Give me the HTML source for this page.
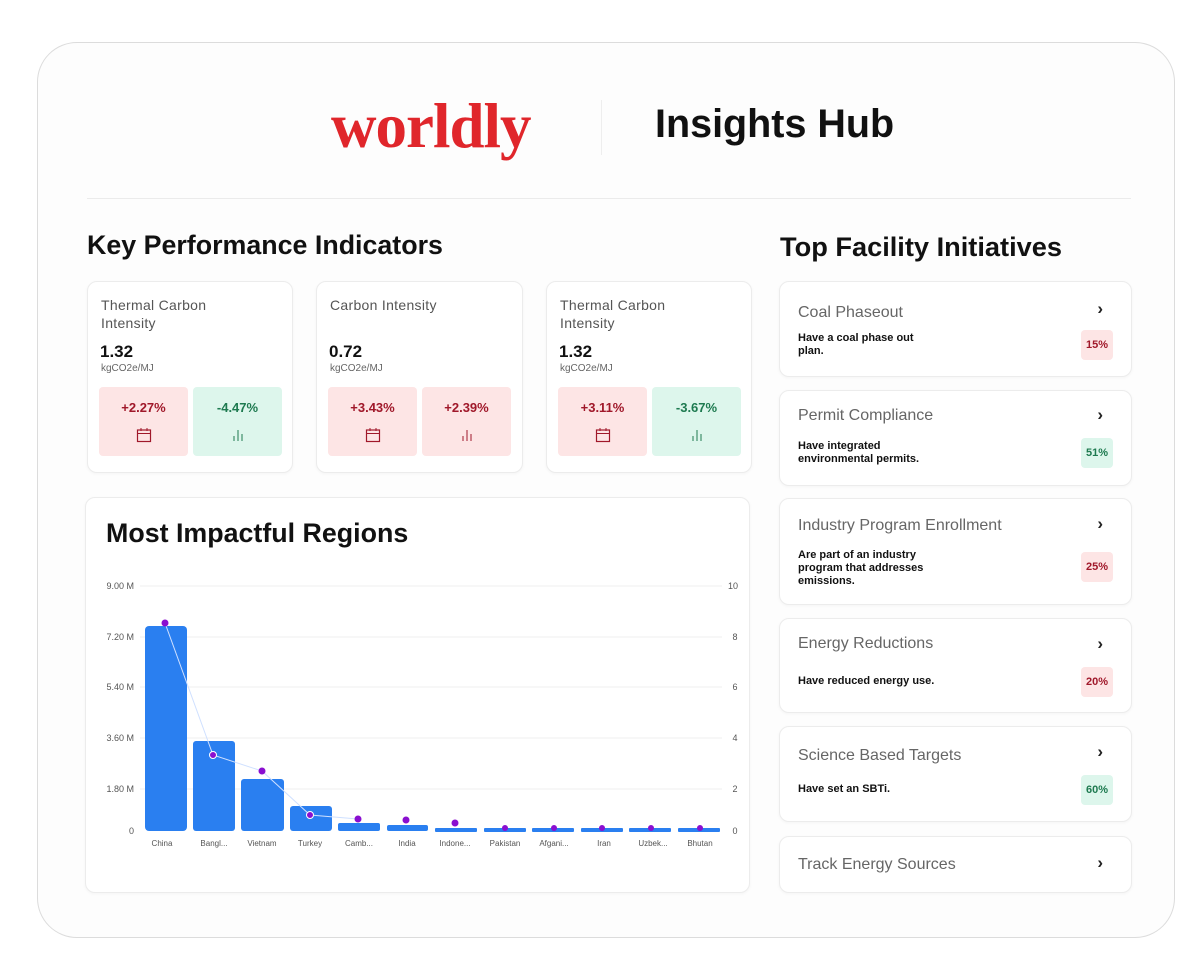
<!DOCTYPE html>
<html><head><meta charset="utf-8"><style>
*{margin:0;padding:0;box-sizing:border-box}
body{width:1200px;height:967px;background:#fff;font-family:"Liberation Sans",sans-serif;position:relative;overflow:hidden}
.a{position:absolute}
.outer{left:37px;top:42px;width:1138px;height:896px;border:1px solid #dcdcdc;border-radius:40px;background:#fdfdfd}
.card{position:absolute;background:#fff;border:1px solid #ececec;border-radius:10px;box-shadow:0 1px 3px rgba(0,0,0,.04)}
.h2{font-weight:bold;font-size:26.5px;color:#111}
.kt{position:absolute;left:13px;top:14px;font-size:14px;color:#555;line-height:18px;letter-spacing:.3px}
.kv{position:absolute;left:12px;top:60px;font-size:17px;font-weight:bold;color:#111}
.ku{position:absolute;left:13px;top:81px;font-size:10px;color:#666}
.chip{position:absolute;top:105px;width:89px;height:69px;border-radius:4px;text-align:center;font-weight:bold;font-size:13px;padding-top:13px}
.r{background:#fde5e5;color:#a0182a}.g{background:#ddf6ec;color:#1e7a50}
.ic{display:block;margin:12px auto 0}
.ft{position:absolute;left:18px;font-size:16px;color:#666}
.fd{position:absolute;left:18px;font-size:11px;font-weight:bold;color:#111;line-height:13px}
.arr{position:absolute;right:28px;font-size:17px;color:#222;font-weight:bold}
.bd{position:absolute;right:18px;width:32px;height:30px;border-radius:4px;font-size:11px;font-weight:bold;text-align:center;line-height:30px}
</style></head><body>
<div class="a outer"></div>
<div class="a" style="left:331px;top:90px;font-family:'Liberation Serif',serif;font-weight:bold;font-size:63px;color:#e0262b;letter-spacing:-1px">worldly</div>
<div class="a" style="left:601px;top:100px;width:1px;height:55px;background:#eee"></div>
<div class="a" style="left:655px;top:102px;font-weight:bold;font-size:39.5px;color:#111">Insights Hub</div>
<div class="a" style="left:87px;top:198px;width:1044px;height:1px;background:#ebebeb"></div>

<div class="a h2" style="left:87px;top:230px;font-size:26.8px">Key Performance Indicators</div>
<div class="a h2" style="left:780px;top:231px;font-size:27.2px">Top Facility Initiatives</div>

<!-- KPI cards -->
<div class="card" style="left:87px;top:281px;width:206px;height:192px">
<div class="kt">Thermal Carbon<br>Intensity</div><div class="kv">1.32</div><div class="ku">kgCO2e/MJ</div>
<div class="chip r" style="left:11px">+2.27%<svg class="ic" width="16" height="16" viewBox="0 0 16 16"><rect x="1.5" y="3" width="13" height="11.5" fill="none" stroke="#a0182a" stroke-width="1.2"/><line x1="1.5" y1="6.5" x2="14.5" y2="6.5" stroke="#a0182a"/><line x1="5" y1="1" x2="5" y2="4" stroke="#a0182a"/><line x1="11" y1="1" x2="11" y2="4" stroke="#a0182a"/></svg></div>
<div class="chip g" style="left:105px">-4.47%<svg class="ic" width="16" height="16" viewBox="0 0 16 16"><line x1="4" y1="9" x2="4" y2="14" stroke="#1e7a50"/><line x1="8" y1="3" x2="8" y2="14" stroke="#1e7a50"/><line x1="12" y1="7" x2="12" y2="14" stroke="#1e7a50"/></svg></div>
</div>
<div class="card" style="left:316px;top:281px;width:207px;height:192px">
<div class="kt">Carbon Intensity</div><div class="kv">0.72</div><div class="ku">kgCO2e/MJ</div>
<div class="chip r" style="left:11px">+3.43%<svg class="ic" width="16" height="16" viewBox="0 0 16 16"><rect x="1.5" y="3" width="13" height="11.5" fill="none" stroke="#a0182a" stroke-width="1.2"/><line x1="1.5" y1="6.5" x2="14.5" y2="6.5" stroke="#a0182a"/><line x1="5" y1="1" x2="5" y2="4" stroke="#a0182a"/><line x1="11" y1="1" x2="11" y2="4" stroke="#a0182a"/></svg></div>
<div class="chip r" style="left:105px">+2.39%<svg class="ic" width="16" height="16" viewBox="0 0 16 16"><line x1="4" y1="9" x2="4" y2="14" stroke="#a0182a"/><line x1="8" y1="3" x2="8" y2="14" stroke="#a0182a"/><line x1="12" y1="7" x2="12" y2="14" stroke="#a0182a"/></svg></div>
</div>
<div class="card" style="left:546px;top:281px;width:206px;height:192px">
<div class="kt">Thermal Carbon<br>Intensity</div><div class="kv">1.32</div><div class="ku">kgCO2e/MJ</div>
<div class="chip r" style="left:11px">+3.11%<svg class="ic" width="16" height="16" viewBox="0 0 16 16"><rect x="1.5" y="3" width="13" height="11.5" fill="none" stroke="#a0182a" stroke-width="1.2"/><line x1="1.5" y1="6.5" x2="14.5" y2="6.5" stroke="#a0182a"/><line x1="5" y1="1" x2="5" y2="4" stroke="#a0182a"/><line x1="11" y1="1" x2="11" y2="4" stroke="#a0182a"/></svg></div>
<div class="chip g" style="left:105px">-3.67%<svg class="ic" width="16" height="16" viewBox="0 0 16 16"><line x1="4" y1="9" x2="4" y2="14" stroke="#1e7a50"/><line x1="8" y1="3" x2="8" y2="14" stroke="#1e7a50"/><line x1="12" y1="7" x2="12" y2="14" stroke="#1e7a50"/></svg></div>
</div>

<!-- Regions chart -->
<div class="card" style="left:85px;top:497px;width:665px;height:396px"></div>
<div class="a h2" style="left:106px;top:518px;font-size:26.8px">Most Impactful Regions</div>
<svg class="a" style="left:0;top:0" width="1200" height="967" font-family="Liberation Sans, sans-serif" font-size="9" fill="#555">
<g stroke="#efefef" stroke-width="1">
<line x1="140" y1="586" x2="722" y2="586"/><line x1="140" y1="637" x2="722" y2="637"/><line x1="140" y1="687" x2="722" y2="687"/><line x1="140" y1="738" x2="722" y2="738"/><line x1="140" y1="789" x2="722" y2="789"/>
</g>
<g text-anchor="end">
<text x="134" y="589">9.00 M</text><text x="134" y="640">7.20 M</text><text x="134" y="690">5.40 M</text><text x="134" y="741">3.60 M</text><text x="134" y="792">1.80 M</text><text x="134" y="834">0</text>
</g>
<g text-anchor="middle">
<text x="733" y="589">10</text><text x="735" y="640">8</text><text x="735" y="690">6</text><text x="735" y="741">4</text><text x="735" y="792">2</text><text x="735" y="834">0</text>
</g>
<g fill="#2a7ff0">
<rect x="145" y="626" width="42" height="205" rx="4"/>
<rect x="193" y="741" width="42" height="90" rx="3"/>
<rect x="241" y="779" width="43" height="52" rx="3"/>
<rect x="290" y="806" width="42" height="25" rx="3"/>
<rect x="338" y="823" width="42" height="8" rx="2"/>
<rect x="387" y="825" width="41" height="6" rx="2"/>
<rect x="435" y="828" width="42" height="4" rx="1"/>
<rect x="484" y="828" width="42" height="4" rx="1"/>
<rect x="532" y="828" width="42" height="4" rx="1"/>
<rect x="581" y="828" width="42" height="4" rx="1"/>
<rect x="629" y="828" width="42" height="4" rx="1"/>
<rect x="678" y="828" width="42" height="4" rx="1"/>
</g>
<polyline points="165,623 213,755 262,771 310,815 358,819" fill="none" stroke="#cfe0ff" stroke-width="1"/>
<g fill="#8a0fd0">
<circle cx="165" cy="623" r="3.5"/><circle cx="213" cy="755" r="3.5" stroke="#fff"/><circle cx="262" cy="771" r="3.5"/><circle cx="310" cy="815" r="3.5" stroke="#fff"/><circle cx="358" cy="819" r="3.5"/><circle cx="406" cy="820" r="3.5"/><circle cx="455" cy="823" r="3.5"/><circle cx="505" cy="828" r="3"/><circle cx="554" cy="828" r="3"/><circle cx="602" cy="828" r="3"/><circle cx="651" cy="828" r="3"/><circle cx="700" cy="828" r="3"/>
</g>
<g text-anchor="middle" font-size="8" fill="#555">
<text x="162" y="846">China</text><text x="214" y="846">Bangl...</text><text x="262" y="846">Vietnam</text><text x="310" y="846">Turkey</text><text x="359" y="846">Camb...</text><text x="407" y="846">India</text><text x="455" y="846">Indone...</text><text x="505" y="846">Pakistan</text><text x="554" y="846">Afgani...</text><text x="604" y="846">Iran</text><text x="653" y="846">Uzbek...</text><text x="700" y="846">Bhutan</text>
</g>
</svg>

<!-- Facility initiatives -->
<div class="card" style="left:779px;top:281px;width:353px;height:96px">
<div class="ft" style="top:22px">Coal Phaseout</div><div class="arr" style="top:17px">›</div>
<div class="fd" style="top:50px">Have a coal phase out<br>plan.</div><div class="bd r" style="top:48px">15%</div></div>
<div class="card" style="left:779px;top:390px;width:353px;height:96px">
<div class="ft" style="top:16px">Permit Compliance</div><div class="arr" style="top:14px">›</div>
<div class="fd" style="top:49px">Have integrated<br>environmental permits.</div><div class="bd g" style="top:47px">51%</div></div>
<div class="card" style="left:779px;top:498px;width:353px;height:107px">
<div class="ft" style="top:18px">Industry Program Enrollment</div><div class="arr" style="top:15px">›</div>
<div class="fd" style="top:50px">Are part of an industry<br>program that addresses<br>emissions.</div><div class="bd r" style="top:53px">25%</div></div>
<div class="card" style="left:779px;top:618px;width:353px;height:95px">
<div class="ft" style="top:16px">Energy Reductions</div><div class="arr" style="top:15px">›</div>
<div class="fd" style="top:56px">Have reduced energy use.</div><div class="bd r" style="top:48px">20%</div></div>
<div class="card" style="left:779px;top:726px;width:353px;height:96px">
<div class="ft" style="top:20px">Science Based Targets</div><div class="arr" style="top:15px">›</div>
<div class="fd" style="top:56px">Have set an SBTi.</div><div class="bd g" style="top:48px">60%</div></div>
<div class="card" style="left:779px;top:836px;width:353px;height:57px">
<div class="ft" style="top:19px">Track Energy Sources</div><div class="arr" style="top:16px">›</div></div>
</body></html>
